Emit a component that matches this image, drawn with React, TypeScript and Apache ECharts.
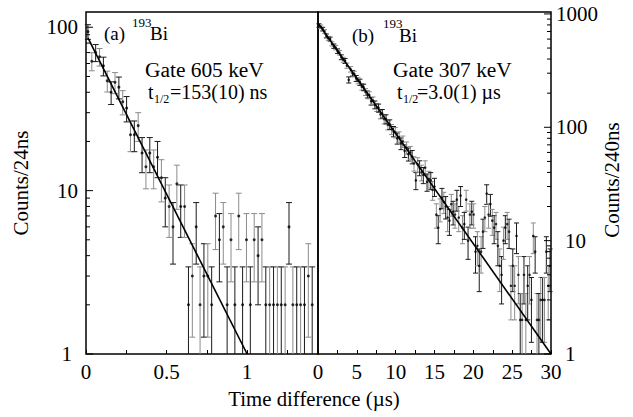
import { useEffect, useRef } from 'react';
import * as echarts from 'echarts';

const FONT = 'Liberation Serif';

// ---------- panel (a): gate 605 keV, 24 ns bins ----------
const LEFT_BIN_US = 0.024;
const leftCounts = [
  94, 62, 70, 66, 58, 47, 40, 46, 43, 35,
  32, 22, 22, 25, 17, 14, 17, 14, 16, 12,
  9, 8, 6, 11, 8, 8, 2, 3, 6, 2,
  3, 3, 2, 7, 5, 6, 2, 5, 2, 7,
  2, 5, 2, 5, 4, 5, 2, 2, 2, 2,
  2, 2, 6, 2, 2, 2, 2, 3, 2,
];
const leftFit = [[0.012, 86], [1.0, 1]];
const LEFT_X_MAX = 1.44;
const LEFT_Y_MAX = 124;
const leftXLabels = [0, 0.5, 1];
const leftYLabels = [1, 10, 100];
const leftMinorTicks = [2, 3, 4, 5, 6, 7, 8, 9, 20, 30, 40, 50, 60, 70, 80, 90];

// ---------- panel (b): gate 307 keV, 240 ns bins ----------
const RIGHT_BIN_US = 0.24;
const rightCounts = [
  790, 770, 735, 700, 640, 610, 600, 545, 520, 505,
  470, 455, 415, 395, 385, 350, 262, 325, 300, 295,
  270, 258, 250, 228, 225, 205, 195, 192, 170, 172,
  158, 150, 148, 130, 132, 118, 118, 105, 106, 96,
  92, 90, 80, 82, 72, 75, 62, 66, 58, 60,
  55, 48, 34, 47, 44, 40, 38, 44, 33, 35,
  34, 28, 30, 17, 13, 19, 24, 22, 20, 16,
  15, 21, 18, 17, 23, 16, 25, 13, 14, 23,
  10, 17, 18, 17, 8, 9, 6, 8, 12, 16,
  26, 17, 21, 15, 13, 14, 9, 6, 5, 10,
  13, 14, 12, 4, 6, 4, 11, 5, 2, 2,
  5, 2, 4, 5, 3, 11, 8, 2, 2, 3,
  3, 3, 8, 4, 6,
];
const rightFit = [[0, 830], [30, 1]];
const RIGHT_X_MAX = 30;
const RIGHT_Y_MAX = 1040;
const rightXLabels = [0, 5, 10, 15, 20, 25, 30];
const rightYLabels = [1, 10, 100, 1000];
const rightMinorTicks = [2, 3, 4, 5, 6, 7, 8, 9, 20, 30, 40, 50, 60, 70, 80, 90, 200, 300, 400, 500, 600, 700, 800, 900];

function toPoints(counts: number[], bin: number) {
  return counts.map((n, k) => [(k + 0.5) * bin, n, Math.sqrt(n), k % 2]);
}

function errorBars(yMin: number, yMax: number, cap: number) {
  return (_params: any, api: any) => {
    const t = api.value(0);
    const n = api.value(1);
    const e = api.value(2);
    const shade = api.value(3);
    let lo = n - e;
    let hi = n + e;
    const loCap = lo > yMin;
    if (!loCap) lo = yMin;
    const hiCap = hi < yMax;
    if (!hiCap) hi = yMax;
    const a = api.coord([t, lo]);
    const b = api.coord([t, hi]);
    const style = { stroke: shade ? '#8c8c8c' : '#1a1a1a', lineWidth: 1 };
    const children: any[] = [
      { type: 'line', shape: { x1: a[0], y1: a[1], x2: b[0], y2: b[1] }, style },
    ];
    if (loCap) children.push({ type: 'line', shape: { x1: a[0] - cap, y1: a[1], x2: a[0] + cap, y2: a[1] }, style });
    if (hiCap) children.push({ type: 'line', shape: { x1: b[0] - cap, y1: b[1], x2: b[0] + cap, y2: b[1] }, style });
    return { type: 'group', children };
  };
}

function tickMarks(dir: number) {
  return (_params: any, api: any) => {
    const p = api.coord([api.value(0), api.value(1)]);
    const len = api.value(2);
    return {
      type: 'line',
      shape: { x1: p[0], y1: p[1], x2: p[0] + dir * len, y2: p[1] },
      style: { stroke: '#000', lineWidth: 1 },
    };
  };
}

function xFormatter(labels: number[]) {
  return (v: number) => (labels.some((l) => Math.abs(l - v) < 1e-9) ? String(v) : '');
}
// labels listed in `shifted` are drawn with the extra offset seen in the reference
function yFormatter(labels: number[], shifted: number[]) {
  return (v: number) => {
    const hit = labels.find((l) => Math.abs(l - v) / l < 1e-6);
    if (hit === undefined) return '';
    return shifted.includes(hit) ? `{s|${hit}}` : `{n|${hit}}`;
  };
}

export default function App() {
  const ref = useRef<HTMLDivElement>(null);

  useEffect(() => {
    if (!ref.current) return;
    const chart = echarts.init(ref.current, undefined, { renderer: 'svg' });

    const leftPts = toPoints(leftCounts, LEFT_BIN_US);
    const rightPts = toPoints(rightCounts, RIGHT_BIN_US);
    const leftTickData = [
      ...leftYLabels.map((v) => [0, v, 7]),
      ...leftMinorTicks.map((v) => [0, v, 4]),
    ];
    const rightTickData = [
      ...rightYLabels.map((v) => [RIGHT_X_MAX, v, 7]),
      ...rightMinorTicks.map((v) => [RIGHT_X_MAX, v, 4]),
    ];

    const labelStyle = { color: '#000', fontFamily: FONT, fontSize: 21 };
    const tok = { color: '#000', fontFamily: FONT, fontSize: 21 };
    const xTick = { show: true, inside: true, length: 4, lineStyle: { color: '#000', width: 1 } };

    const txt = (text: string, x: number, y: number, size: number, extra: any = {}) => ({
      type: 'text',
      x,
      y,
      ...extra,
      style: {
        text,
        font: `${size}px ${FONT}`,
        fill: '#000',
        align: extra.align || 'left',
        verticalAlign: 'middle',
      },
    });

    chart.setOption({
      animation: false,
      backgroundColor: '#fff',
      textStyle: { fontFamily: FONT },
      grid: [
        { left: 86, top: 12, width: 232, height: 342, show: true, borderColor: '#000', borderWidth: 1.5 },
        { left: 318, top: 12, width: 233, height: 342, show: true, borderColor: '#000', borderWidth: 1.5 },
      ],
      xAxis: [
        {
          gridIndex: 0, type: 'value', min: 0, max: LEFT_X_MAX, interval: 0.25,
          axisLine: { show: false }, axisTick: xTick, splitLine: { show: false },
          axisLabel: { ...labelStyle, margin: 7, formatter: xFormatter(leftXLabels) },
        },
        {
          gridIndex: 1, type: 'value', min: 0, max: RIGHT_X_MAX, interval: 2.5,
          axisLine: { show: false }, axisTick: xTick, splitLine: { show: false },
          axisLabel: { ...labelStyle, margin: 7, formatter: xFormatter(rightXLabels) },
        },
      ],
      yAxis: [
        {
          gridIndex: 0, type: 'log', logBase: 10, min: 1, max: LEFT_Y_MAX, position: 'left',
          axisLine: { show: false }, axisTick: { show: false }, splitLine: { show: false },
          axisLabel: {
            ...labelStyle, margin: 8, formatter: yFormatter(leftYLabels, [1]),
            rich: { n: { ...tok }, s: { ...tok, padding: [0, 6, 0, 0] } },
          },
        },
        {
          gridIndex: 1, type: 'log', logBase: 10, min: 1, max: RIGHT_Y_MAX, position: 'right',
          axisLine: { show: false }, axisTick: { show: false }, splitLine: { show: false },
          axisLabel: {
            ...labelStyle, margin: 5, formatter: yFormatter(rightYLabels, [1, 10]),
            rich: { n: { ...tok }, s: { ...tok, padding: [0, 0, 0, 9] } },
          },
        },
      ],
      series: [
        {
          type: 'custom', xAxisIndex: 0, yAxisIndex: 0, data: leftTickData,
          renderItem: tickMarks(1), encode: { x: 0, y: 1 }, silent: true, z: 5,
        },
        {
          type: 'custom', xAxisIndex: 1, yAxisIndex: 1, data: rightTickData,
          renderItem: tickMarks(-1), encode: { x: 0, y: 1 }, silent: true, z: 5,
        },
        {
          type: 'custom', xAxisIndex: 0, yAxisIndex: 0, data: leftPts,
          renderItem: errorBars(1, LEFT_Y_MAX, 3), encode: { x: 0, y: 1 }, silent: true, z: 2,
        },
        {
          type: 'custom', xAxisIndex: 1, yAxisIndex: 1, data: rightPts,
          renderItem: errorBars(1, RIGHT_Y_MAX, 2.5), encode: { x: 0, y: 1 }, silent: true, z: 2,
        },
        {
          type: 'scatter', xAxisIndex: 0, yAxisIndex: 0, data: leftPts.map((p) => [p[0], p[1]]),
          symbol: 'circle', symbolSize: 3, itemStyle: { color: '#000' }, silent: true, z: 3,
        },
        {
          type: 'scatter', xAxisIndex: 1, yAxisIndex: 1, data: rightPts.map((p) => [p[0], p[1]]),
          symbol: 'circle', symbolSize: 2.6, itemStyle: { color: '#000' }, silent: true, z: 3,
        },
        {
          type: 'line', xAxisIndex: 0, yAxisIndex: 0, data: leftFit, showSymbol: false,
          lineStyle: { color: '#000', width: 1.6 }, silent: true, z: 4,
        },
        {
          type: 'line', xAxisIndex: 1, yAxisIndex: 1, data: rightFit, showSymbol: false,
          lineStyle: { color: '#000', width: 1.6 }, silent: true, z: 4,
        },
      ],
      graphic: [
        // panel (a)
        txt('(a)', 104, 33, 19),
        txt('193', 132, 22, 13),
        txt('Bi', 150, 33, 19),
        txt('Gate 605 keV', 145, 70, 20, { scaleX: 1.07 }),
        txt('t', 148, 92, 20),
        txt('1/2', 154, 99, 12),
        txt('=153(10) ns', 170, 92, 20),
        // panel (b)
        txt('(b)', 352, 35, 19),
        txt('193', 383, 23, 13),
        txt('Bi', 399, 35, 19),
        txt('Gate 307 keV', 393, 70, 20, { scaleX: 1.07 }),
        txt('t', 397, 92, 20),
        txt('1/2', 403, 99, 12),
        txt('=3.0(1) µs', 417, 92, 20),
        // axis names
        txt('Counts/24ns', 21, 183, 21, { rotation: Math.PI / 2, align: 'center' }),
        txt('Counts/240ns', 612, 180, 21, { rotation: Math.PI / 2, align: 'center' }),
        txt('Time difference (µs)', 314, 399, 20, { scaleX: 1.04, align: 'center' }),
      ],
    });

    return () => chart.dispose();
  }, []);

  return (
    <div
      ref={ref}
      style={{ position: 'fixed', left: 0, top: 0, width: 633, height: 417, background: '#fff' }}
    />
  );
}
